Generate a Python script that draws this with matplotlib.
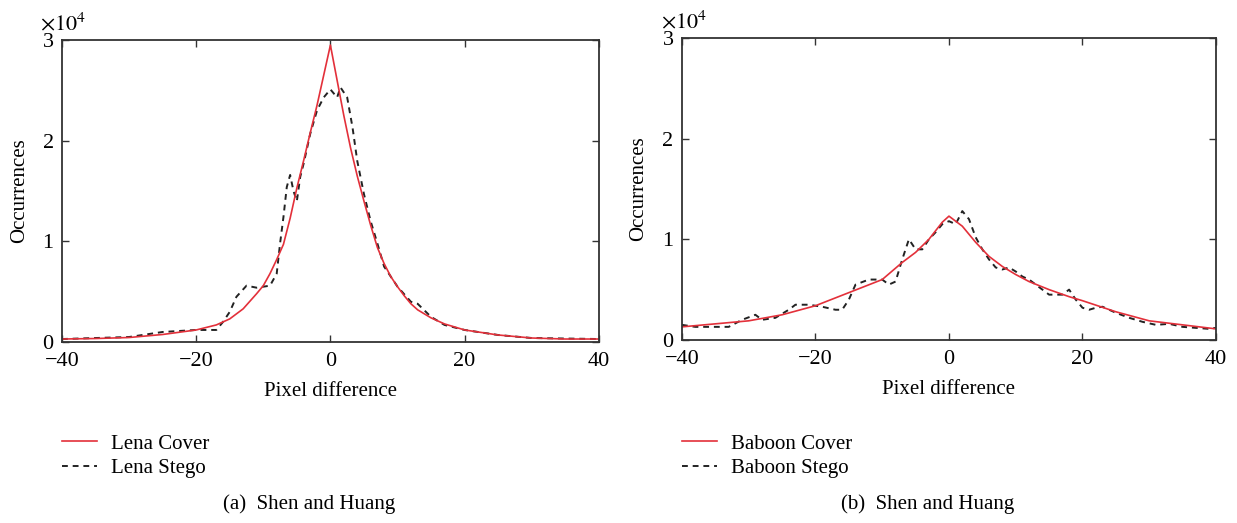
import numpy as np
import matplotlib
matplotlib.use('Agg')
import matplotlib.pyplot as plt

plt.rcParams['font.family'] = ['Liberation Serif', 'DejaVu Serif']
plt.rcParams['mathtext.fontset'] = 'stix'

# Lena (a)
lena_cover_x = [-40, -35, -30, -25, -20, -17, -15, -13, -11, -10, -9, -8, -7, -6,
                -5, -4, -3, -2, -1, 0, 1, 2, 3, 4, 5, 6, 7, 8, 9, 10, 11, 12, 13,
                15, 17, 20, 25, 30, 35, 40]
lena_cover = [300, 350, 450, 750, 1200, 1700, 2300, 3300, 4800, 5600, 6800, 8200,
              9700, 12300, 15300, 18000, 20800, 23500, 26500, 29500, 26000, 22500,
              19300, 16500, 14000, 11600, 9400, 7800, 6500, 5500, 4600, 3800, 3200,
              2400, 1800, 1200, 700, 400, 300, 300]

lena_stego_x = [-40, -30, -25, -20, -17, -16, -15, -14, -12.5, -11, -9, -8,
                -7.5, -7, -6.5, -6, -5.5, -5, -4.5, -4, -3, -2, -1, 0, 1, 1.5, 2.5,
                3.3, 4, 5, 6, 7, 8, 9, 10, 12, 13, 15, 17, 20, 22, 25, 30, 40]
lena_stego = [300, 500, 1000, 1200, 1200, 2000, 3000, 4500, 5600, 5400, 5600, 6800,
              9800, 12400, 15400, 16600, 15000, 14000, 16400, 17700, 20700, 23000,
              24300, 25100, 24300, 25300, 24300, 21300, 18000, 14700, 12000, 9800,
              7500, 6500, 5500, 4000, 3800, 2500, 1700, 1200, 1000, 700, 400, 300]

# Baboon (b)
baboon_cover_x = [-40, -35, -30, -25, -20, -15, -10, -7, -5, -3, -1, 0, 2, 4, 6, 8,
                  10, 12, 15, 18, 20, 25, 30, 35, 40]
baboon_cover = [1300, 1600, 1900, 2500, 3400, 4700, 6000, 7700, 8700, 10000, 11700,
                12300, 11300, 9700, 8300, 7300, 6500, 5800, 5000, 4300, 3900, 2800,
                1900, 1500, 1100]

baboon_stego_x = [-40, -38, -35, -33, -31, -29, -28, -26, -24, -23, -21, -19, -17,
                  -16, -15, -14, -12, -10, -9, -8, -7, -6, -5, -4, -3, -2, -1, 0, 1,
                  2, 3, 4, 5, 6, 7, 8, 9, 10, 11, 12, 13, 14, 15, 16, 17, 18, 19, 20,
                  21, 22, 23, 24, 25, 27, 29, 31, 33, 35, 37, 39, 40]
baboon_stego = [1500, 1300, 1300, 1300, 2000, 2500, 2000, 2200, 3000, 3500, 3500,
                3300, 3000, 3000, 4000, 5500, 6000, 6000, 5500, 5800, 8000, 10000,
                9000, 9000, 10000, 10700, 11500, 11800, 11500, 12800, 12000, 10200,
                9000, 8000, 7200, 7000, 7200, 6800, 6300, 6000, 5500, 5000, 4500,
                4500, 4500, 5000, 4000, 3200, 3000, 3200, 3300, 3000, 2700, 2200,
                1800, 1500, 1600, 1300, 1200, 1100, 1200]

x_ticks = [-40, -20, 0, 20, 40]
x_labels = ['\u221240', '\u221220', '0', '20', '40']
y_ticks = [0, 10000, 20000, 30000]
y_labels = ['0', '1', '2', '3']

panels = [
    (lena_cover_x, lena_cover, lena_stego_x, lena_stego,
     'Lena Cover', 'Lena Stego', '(a)  Shen and Huang', [0.0501, 0.346, 0.434, 0.5774]),
    (baboon_cover_x, baboon_cover, baboon_stego_x, baboon_stego,
     'Baboon Cover', 'Baboon Stego', '(b)  Shen and Huang', [0.5513, 0.350, 0.4317, 0.5774]),
]

fig = plt.figure(figsize=(12.37, 5.23), dpi=100)

for cx, cy, sx, sy, lab_c, lab_s, caption, rect in panels:
    ax = fig.add_axes(rect)
    stego, = ax.plot(sx, sy, color='#222222', linestyle=(0, (3, 2.5)),
                     linewidth=1.4, label=lab_s)
    cover, = ax.plot(cx, cy, color='#e3303a', linewidth=1.2, label=lab_c)
    ax.set_xlim(-40, 40)
    ax.set_ylim(0, 30000)
    ax.set_xticks(x_ticks)
    ax.set_xticklabels(x_labels)
    ax.set_yticks(y_ticks)
    ax.set_yticklabels(y_labels)
    ax.tick_params(direction='in', top=True, right=True, length=5, width=1,
                   labelsize=16, color='#333333')
    ax.tick_params(axis='x', pad=7)
    ax.tick_params(axis='y', pad=6)
    for s in ax.spines.values():
        s.set_color('#333333')
        s.set_linewidth(1.3)
    ax.set_xlabel('Pixel difference', fontsize=15, labelpad=8)
    ax.set_ylabel('Occurrences', fontsize=15, labelpad=10)
    ax.text(-0.04, 1.015, r'$\times10^{4}$', transform=ax.transAxes, fontsize=16,
            ha='left', va='bottom')

    x0 = rect[0]
    fig.legend([cover, stego], [lab_c, lab_s],
               loc='upper left', bbox_to_anchor=(x0 - 0.007, 0.186),
               frameon=False, fontsize=15, handlelength=1.7, handletextpad=0.67,
               labelspacing=0.22, borderaxespad=0)
    fig.text(x0 + rect[2] / 2 - 0.017, 0.036, caption, fontsize=15,
             ha='center', va='center')

fig.savefig('out.png', dpi=100)
